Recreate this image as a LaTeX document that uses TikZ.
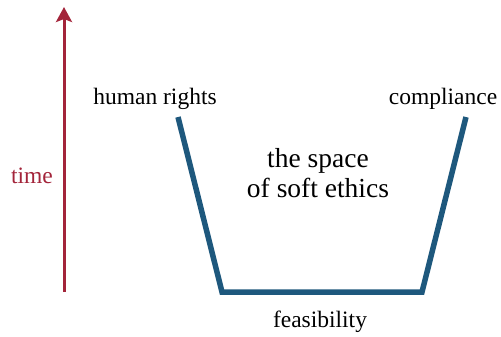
\documentclass[tikz,border=0pt]{standalone}
\usepackage{fontspec}
\setmainfont{Liberation Serif}
\usetikzlibrary{positioning,arrows.meta}
\definecolor{timered}{RGB}{163,36,58}
\definecolor{ethicsblue}{RGB}{30,88,125}

\begin{document}
\begin{tikzpicture}[x=1bp,y=-1bp,
	lstyle/.style={font=\fontsize{23.5bp}{26bp}\selectfont, inner sep=0pt, anchor=base},
	cstyle/.style={font=\fontsize{27.5bp}{30bp}\selectfont, inner sep=0pt, align=center},
	wall/.style={line width=5.5bp, draw=ethicsblue, line join=miter}
	]
	\useasboundingbox (0,0) rectangle (501,336);
	
	% time axis
	\coordinate (t0) at (64,292);
	\coordinate (t1) at (64,7);
	\draw[-{Stealth[length=15bp,width=16bp,inset=3bp]}, line width=3bp, timered] (t0) -- (t1);
	\node[lstyle, text=timered] (time) at (32,183) {time};
	
	% the space
	\coordinate (lt) at (178,117);
	\coordinate (lb) at (222,292);
	\coordinate (rb) at (422,292);
	\coordinate (rt) at (466,117);
	\draw[wall] (lt) -- (lb) -- (rb) -- (rt);
	
	\node[lstyle] (rights) at (155,104) {human rights};
	\node[lstyle] (compl) at (443,104) {compliance};
	\node[lstyle] (feas) at (320,327) {feasibility};
	\node[cstyle] (space) at (318,173) {the space\\of soft ethics};
\end{tikzpicture}
\end{document}
